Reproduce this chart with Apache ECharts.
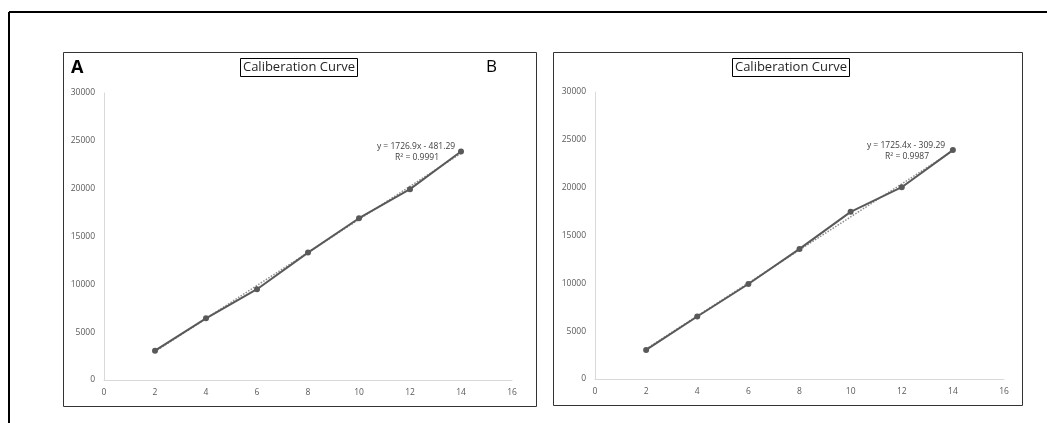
<!DOCTYPE html>
<html>
<head>
<meta charset="utf-8">
<script src="https://cdn.jsdelivr.net/npm/echarts@6/dist/echarts.min.js"></script>
<style>
html,body{margin:0;padding:0;background:#fff;}
#chart{width:1047px;height:423px;}
</style>
</head>
<body>
<div id="chart"></div>
<script>
// Data
const xValues = [2, 4, 6, 8, 10, 12, 14];
const seriesA = [3065, 6450, 9490, 13320, 16910, 19950, 23880];
const seriesB = [3040, 6530, 9930, 13600, 17470, 20050, 23930];
const trendA = [[2, 2972.5], [14, 23695.3]];
const trendB = [[2, 3141.5], [14, 23846.3]];
const eqA = ['y = 1726.9x - 481.29', 'R² = 0.9991'];
const eqB = ['y = 1725.4x - 309.29', 'R² = 0.9987'];
const titleText = 'Caliberation Curve';
const xTicks = [0, 2, 4, 6, 8, 10, 12, 14, 16];
const yTicks = [0, 5000, 10000, 15000, 20000, 25000, 30000];

const FONT = 'Open Sans';
const pairs = (ys) => xValues.map((x, i) => [x, ys[i]]);

const xAxisCommon = (gi) => ({
  type: 'value', gridIndex: gi, min: xTicks[0], max: xTicks[xTicks.length - 1], interval: 2,
  axisLine: {show: true, lineStyle: {color: '#d9d9d9', width: 1}},
  axisTick: {show: false}, splitLine: {show: false},
  axisLabel: {color: '#595959', fontSize: 8.5, fontFamily: FONT, margin: 8, formatter: (v) => String(v)}
});
const yAxisCommon = (gi) => ({
  type: 'value', gridIndex: gi, min: yTicks[0], max: yTicks[yTicks.length - 1], interval: 5000,
  axisLine: {show: true, lineStyle: {color: '#d9d9d9', width: 1}},
  axisTick: {show: false}, splitLine: {show: false},
  axisLabel: {color: '#595959', fontSize: 8.5, fontFamily: FONT, margin: 9, formatter: (v) => String(v)}
});
const dataSeries = (gi, ys) => ({
  type: 'line', xAxisIndex: gi, yAxisIndex: gi, data: pairs(ys),
  symbol: 'circle', symbolSize: 6, z: 3,
  lineStyle: {color: '#595959', width: 2},
  itemStyle: {color: '#595959'}, animation: false
});
const trendSeries = (gi, pts) => ({
  type: 'line', xAxisIndex: gi, yAxisIndex: gi, data: pts,
  symbol: 'none', z: 2,
  lineStyle: {color: '#8c8c8c', width: 1.5, type: [1.5, 1.5]}, animation: false
});
const titleCommon = (left, top) => ({
  text: titleText, left: left, top: top, textAlign: 'center',
  borderColor: '#000', borderWidth: 1, padding: [3, 3, 3, 3],
  textStyle: {fontFamily: FONT, fontSize: 13, fontWeight: 'normal', color: '#262626'}
});

const chart = echarts.init(document.getElementById('chart'), null, {renderer: 'canvas'});
chart.setOption({
  backgroundColor: '#fff',
  animation: false,
  title: [titleCommon(296, 58), titleCommon(788, 58)],
  grid: [
    {left: 104, top: 93, width: 408, height: 287},
    {left: 595, top: 92, width: 409, height: 287}
  ],
  xAxis: [xAxisCommon(0), xAxisCommon(1)],
  yAxis: [yAxisCommon(0), yAxisCommon(1)],
  series: [dataSeries(0, seriesA), trendSeries(0, trendA), dataSeries(1, seriesB), trendSeries(1, trendB)],
  graphic: [
    {type: 'line', shape: {x1: 9, y1: 12, x2: 1047, y2: 12}, style: {stroke: '#000', lineWidth: 2}},
    {type: 'line', shape: {x1: 9, y1: 12, x2: 9, y2: 423}, style: {stroke: '#000', lineWidth: 2}},
    {type: 'rect', shape: {x: 63.5, y: 52.5, width: 473, height: 354}, style: {fill: 'none', stroke: '#333', lineWidth: 1}},
    {type: 'rect', shape: {x: 553.5, y: 52.5, width: 469, height: 353}, style: {fill: 'none', stroke: '#333', lineWidth: 1}},
    {type: 'text', left: 71, top: 59, style: {text: 'A', font: 'bold 18px ' + FONT, fill: '#000'}},
    {type: 'text', left: 486, top: 59, style: {text: 'B', font: '17px ' + FONT, fill: '#000'}},
    {type: 'text', x: 416, y: 147, style: {text: eqA[0], font: '8.5px ' + FONT, fill: '#404040', align: 'center', verticalAlign: 'middle'}},
    {type: 'text', x: 417, y: 158, style: {text: eqA[1], font: '8.5px ' + FONT, fill: '#404040', align: 'center', verticalAlign: 'middle'}},
    {type: 'text', x: 906, y: 146, style: {text: eqB[0], font: '8.5px ' + FONT, fill: '#404040', align: 'center', verticalAlign: 'middle'}},
    {type: 'text', x: 907, y: 157, style: {text: eqB[1], font: '8.5px ' + FONT, fill: '#404040', align: 'center', verticalAlign: 'middle'}}
  ]
});
</script>
</body>
</html>
